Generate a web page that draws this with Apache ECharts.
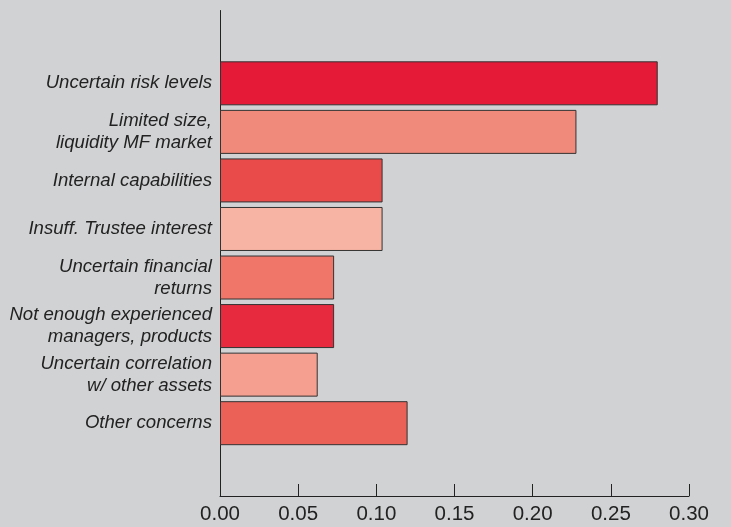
<!DOCTYPE html>
<html>
<head>
<meta charset="utf-8">
<script src="https://cdn.jsdelivr.net/npm/echarts@6/dist/echarts.min.js"></script>
<style>
html,body{margin:0;padding:0;background:#d1d2d4;}
#chart{width:731px;height:527px;}
</style>
</head>
<body>
<div id="chart"></div>
<script>
var categories = ['', 'Uncertain risk levels', 'Limited size,\nliquidity MF market', 'Internal capabilities', 'Insuff. Trustee interest', 'Uncertain financial\nreturns', 'Not enough experienced\nmanagers, products', 'Uncertain correlation\nw/ other assets', 'Other concerns', ''];
var values = ['-', 0.28, 0.228, 0.104, 0.104, 0.073, 0.073, 0.0625, 0.12, '-'];
var colors = ['#e41a37', '#e41a37', '#f08a7a', '#e94a4a', '#f7b3a3', '#ef7668', '#e72a3d', '#f49f90', '#eb6158', '#eb6158'];
var tickValues = [0, 0.05, 0.10, 0.15, 0.20, 0.25, 0.30];

var chart = echarts.init(document.getElementById('chart'));
chart.setOption({
  backgroundColor: '#d1d2d4',
  animation: false,
  grid: {left: 220, right: 42, top: 10.5, bottom: 31},
  xAxis: {
    type: 'value',
    min: tickValues[0],
    max: tickValues[tickValues.length - 1],
    interval: 0.05,
    axisLine: {show: true, lineStyle: {color: '#222', width: 1}},
    axisTick: {show: true, inside: true, length: 12, lineStyle: {color: '#222', width: 1}},
    splitLine: {show: false},
    axisLabel: {
      color: '#222', fontSize: 20.5, fontFamily: 'Liberation Sans, Arial, sans-serif', margin: 8,
      formatter: function (v) { return v.toFixed(2); }
    }
  },
  yAxis: {
    type: 'category',
    inverse: true,
    data: categories,
    axisLine: {show: true, lineStyle: {color: '#222', width: 1}},
    axisTick: {show: false},
    axisLabel: {
      color: '#222', fontSize: 18.6, fontStyle: 'italic', fontFamily: 'Liberation Sans, Arial, sans-serif',
      margin: 8, lineHeight: 22, align: 'right'
    }
  },
  series: [{
    type: 'bar',
    data: values.map(function (v, i) {
      return {value: v, itemStyle: {color: colors[i]}};
    }),
    barWidth: 44,
    itemStyle: {borderColor: '#333', borderWidth: 1}
  }]
});
</script>
</body>
</html>
